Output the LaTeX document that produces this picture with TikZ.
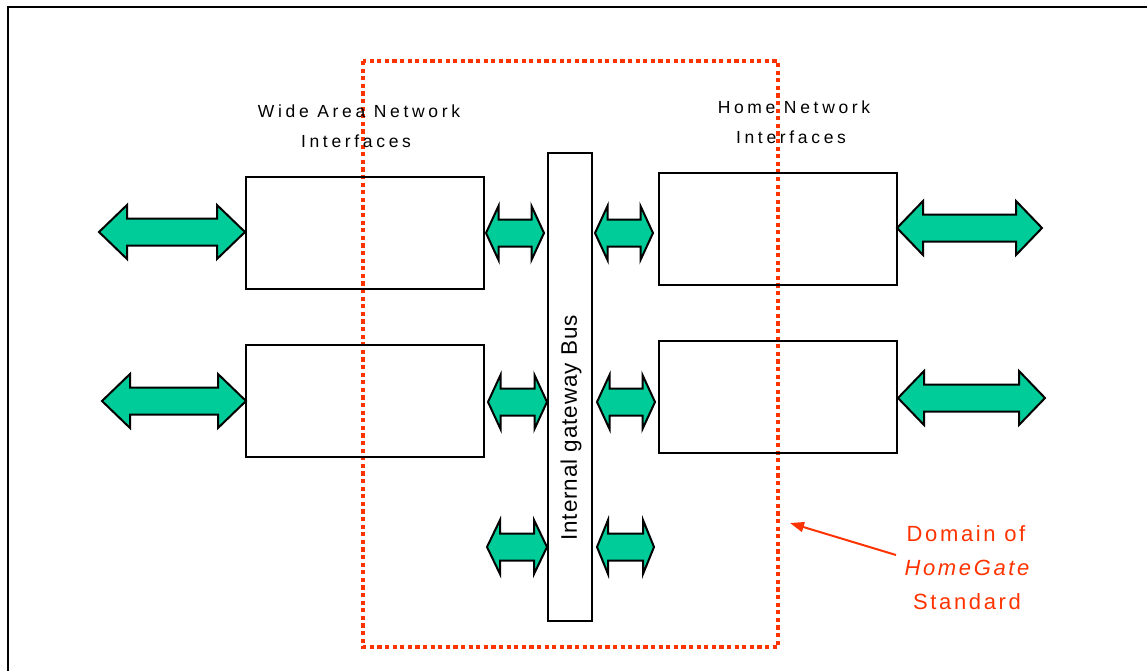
\documentclass[tikz,border=0pt]{standalone}
\usepackage{fontspec}
\setmainfont{Liberation Sans}
\newfontfamily\spaced[LetterSpace=21]{Liberation Sans}
\newfontfamily\lightspaced[LetterSpace=12]{Liberation Sans}
\newfontfamily\busfont[LetterSpace=4]{Liberation Sans}
\usetikzlibrary{arrows.meta}
\definecolor{bargreen}{RGB}{0,204,153}
\definecolor{domred}{RGB}{255,51,0}
\tikzset{
  box/.style={draw, line width=1.8pt, minimum width=238pt, minimum height=112pt, inner sep=0pt},
  barrow/.style={fill=bargreen, draw=black, line width=2pt, line join=miter},
  lbl/.style={font=\fontsize{17.5}{19}\selectfont\spaced, text=black, inner sep=0pt},
  domlbl/.style={font=\fontsize{22}{24}\selectfont\lightspaced, text=domred, inner sep=0pt},
}
% double-headed block arrow: left tip x, right tip x, centre y, head length
\newcommand\blockarrow[4]{%
  \filldraw[barrow] (#1,#3) -- (#1+#4,#3-27) -- (#1+#4,#3-13.5) -- (#2-#4,#3-13.5)
    -- (#2-#4,#3-27) -- (#2,#3) -- (#2-#4,#3+27) -- (#2-#4,#3+13.5)
    -- (#1+#4,#3+13.5) -- (#1+#4,#3+27) -- cycle;}
\begin{document}
\begin{tikzpicture}[x=1pt, y=-1pt]
\useasboundingbox (0,0) rectangle (1147,671);
\clip (0,0) rectangle (1147,671);
% outer frame
\draw[line width=2.8pt] (8,700) -- (8,7) -- (1200,7);

% domain of the standard
\draw[domred, line width=3.5pt, dash pattern=on 4.2pt off 3.4pt] (363,61) rectangle (778,647);

% interface boxes
\node[box] (wan1) at (365,233) {};
\node[box] (wan2) at (365,401) {};
\node[box] (hn1) at (778,229) {};
\node[box] (hn2) at (778,397) {};

% internal bus
\node[draw, line width=1.8pt, minimum width=44pt, minimum height=468pt, inner sep=0pt] (bus) at (570,387) {};
\node[rotate=90, font=\fontsize{22.5}{24}\selectfont\busfont, inner sep=0pt] (buslbl) at (571,428) {Internal gateway Bus};

% external links
\blockarrow{99}{245}{232}{28}
\blockarrow{102}{246}{401}{28}
\blockarrow{897}{1042}{228}{26}
\blockarrow{898}{1045}{398}{26}

% links to the bus
\blockarrow{486}{544}{233}{12.5}
\blockarrow{595}{653}{233}{12.5}
\blockarrow{488}{547}{402}{12.5}
\blockarrow{597}{655}{402}{12.5}
\blockarrow{487}{547}{547}{13}
\blockarrow{597}{654}{547}{11}

% group headings
\node[lbl] (wanA) at (359,111) {Wide Area Network};
\node[lbl] (wanB) at (356,141) {Interfaces};
\node[lbl] (hnA) at (794,107) {Home Network};
\node[lbl] (hnB) at (791,137) {Interfaces};

% annotation
\node[domlbl] (domA) at (966,534) {Domain of};
\node[domlbl] (domB) at (967,568) {\itshape HomeGate};
\node[domlbl] (domC) at (967,602) {Standard};
\coordinate (domtip) at (790,523);
\draw[domred, line width=2pt, -{Triangle[length=14pt, width=10pt]}] (896,555) -- (domtip);
\end{tikzpicture}
\end{document}
